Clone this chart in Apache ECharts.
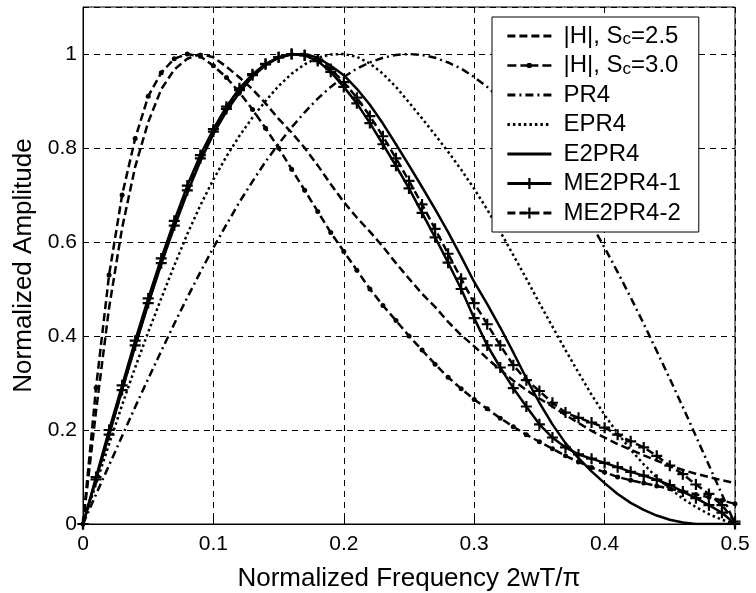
<!DOCTYPE html>
<html>
<head>
<meta charset="utf-8">
<script src="https://cdn.jsdelivr.net/npm/echarts@6/dist/echarts.min.js"></script>
<style>
  html, body { margin: 0; padding: 0; background: #fff; }
  #chart { width: 756px; height: 593px; }
</style>
</head>
<body>
<div id="chart"></div>
<script>
// normalized frequency grid, step 0.01
var freq = [];
for (var i = 0; i <= 50; i++) freq.push(+(i * 0.01).toFixed(2));

var xTicks = [0, 0.1, 0.2, 0.3, 0.4, 0.5];
var yTicks = [0, 0.2, 0.4, 0.6, 0.8, 1];

// values
var hSc25 = [0, 0.24, 0.46, 0.63, 0.76, 0.855, 0.925, 0.967, 0.99, 1.0,
  0.993, 0.973, 0.95, 0.925, 0.895, 0.862, 0.833, 0.8, 0.763, 0.723,
  0.685, 0.652, 0.622, 0.59, 0.555, 0.522, 0.49, 0.462, 0.43, 0.402,
  0.378, 0.352, 0.328, 0.305, 0.285, 0.267, 0.25, 0.232, 0.215, 0.198,
  0.184, 0.17, 0.158, 0.146, 0.135, 0.124, 0.115, 0.107, 0.1, 0.093, 0.087];

var hSc30 = [0, 0.29, 0.53, 0.7, 0.82, 0.91, 0.96, 0.99, 1.0, 0.995,
  0.975, 0.95, 0.918, 0.882, 0.842, 0.8, 0.755, 0.71, 0.665, 0.62,
  0.58, 0.54, 0.5, 0.465, 0.433, 0.4, 0.37, 0.34, 0.312, 0.288,
  0.265, 0.245, 0.225, 0.207, 0.19, 0.175, 0.16, 0.145, 0.132, 0.12,
  0.11, 0.1, 0.093, 0.087, 0.081, 0.075, 0.069, 0.063, 0.057, 0.05, 0.043];

var pr4 = [0, 0.063, 0.125, 0.187, 0.249, 0.309, 0.368, 0.426, 0.482, 0.536,
  0.588, 0.637, 0.685, 0.729, 0.771, 0.809, 0.844, 0.876, 0.905, 0.93,
  0.951, 0.969, 0.982, 0.992, 0.998, 1.0, 0.998, 0.992, 0.982, 0.969,
  0.951, 0.93, 0.905, 0.876, 0.844, 0.809, 0.771, 0.729, 0.685, 0.637,
  0.588, 0.536, 0.482, 0.426, 0.368, 0.309, 0.249, 0.187, 0.125, 0.063, 0];

var epr4 = [0, 0.085, 0.17, 0.253, 0.333, 0.408, 0.48, 0.55, 0.617, 0.678,
  0.733, 0.782, 0.826, 0.865, 0.9, 0.932, 0.958, 0.978, 0.992, 0.999,
  1.0, 0.994, 0.98, 0.958, 0.93, 0.897, 0.863, 0.828, 0.792, 0.754,
  0.713, 0.669, 0.622, 0.572, 0.522, 0.47, 0.42, 0.37, 0.322, 0.275,
  0.232, 0.193, 0.158, 0.127, 0.099, 0.075, 0.054, 0.036, 0.021, 0.009, 0];

var e2pr4 = [0, 0.095, 0.19, 0.285, 0.378, 0.468, 0.553, 0.632, 0.705, 0.772,
  0.83, 0.878, 0.918, 0.952, 0.976, 0.992, 0.999, 1.0, 0.992, 0.975,
  0.955, 0.926, 0.892, 0.852, 0.808, 0.763, 0.717, 0.67, 0.621, 0.569,
  0.515, 0.468, 0.418, 0.365, 0.31, 0.258, 0.212, 0.172, 0.14, 0.112,
  0.087, 0.064, 0.045, 0.03, 0.018, 0.009, 0.003, 0, 0, 0, 0];

var me2pr4a = [0, 0.1, 0.2, 0.295, 0.39, 0.48, 0.565, 0.645, 0.72, 0.785,
  0.84, 0.888, 0.927, 0.957, 0.979, 0.993, 1.0, 0.997, 0.985, 0.962,
  0.93, 0.895, 0.853, 0.808, 0.762, 0.714, 0.662, 0.61, 0.556, 0.5,
  0.438, 0.38, 0.333, 0.289, 0.25, 0.212, 0.184, 0.163, 0.148, 0.139,
  0.13, 0.121, 0.111, 0.103, 0.094, 0.083, 0.069, 0.055, 0.04, 0.024, 0];

var me2pr4b = [0, 0.095, 0.19, 0.285, 0.38, 0.47, 0.555, 0.635, 0.71, 0.778,
  0.835, 0.883, 0.923, 0.955, 0.978, 0.993, 1.0, 0.998, 0.988, 0.968,
  0.94, 0.907, 0.868, 0.825, 0.778, 0.73, 0.68, 0.628, 0.575, 0.522,
  0.47, 0.425, 0.38, 0.338, 0.306, 0.283, 0.258, 0.237, 0.226, 0.216,
  0.205, 0.19, 0.176, 0.163, 0.145, 0.124, 0.106, 0.084, 0.064, 0.04, 0.005];

function pairs(ys) {
  return freq.map(function (x, k) { return [x, ys[k]]; });
}

var plus = 'path://M-1.6,-8L1.6,-8L1.6,-1.6L8,-1.6L8,1.6L1.6,1.6L1.6,8L-1.6,8L-1.6,1.6L-8,1.6L-8,-1.6L-1.6,-1.6Z';
// legend sample for the dashed line with dots
var dashDotIcon = 'path://M0,1.3L9,1.3L9,3.7L0,3.7Z M13,1.3L31,1.3L31,3.7L13,3.7Z M35,1.3L44,1.3L44,3.7L35,3.7Z ' +
  'M20.5,0L23.5,0L25,1.5L25,3.5L23.5,5L20.5,5L19,3.5L19,1.5Z';
var dashed = [8, 4];
var dashDot = [8, 4, 2, 4];
var dotted = [2.5, 3];

function line(name, ys, type, extra) {
  var s = {
    name: name,
    type: 'line',
    data: pairs(ys),
    symbol: 'none',
    lineStyle: { color: '#000', width: 2.5, type: type },
    itemStyle: { color: '#000' },
    emphasis: { disabled: true },
    z: 3
  };
  for (var k in extra) s[k] = extra[k];
  return s;
}

var noMark = { opacity: 0 };

var chartDom = document.getElementById('chart');
var myChart = echarts.init(chartDom);
var font = 'Liberation Sans, Arial, Helvetica, sans-serif';

var option = {
  animation: false,
  backgroundColor: '#fff',
  grid: {
    left: 83, right: 21, top: 7, bottom: 69,
    outerBoundsMode: 'none',
    containLabel: false,
    show: true, borderColor: '#000', borderWidth: 1
  },
  legend: {
    orient: 'vertical',
    left: 492,
    top: 17,
    itemWidth: 44,
    itemHeight: 14,
    itemGap: 5.5,
    padding: [7, 18, 7, 14],
    backgroundColor: '#fff',
    borderColor: '#000',
    borderWidth: 1,
    borderRadius: 0,
    inactiveColor: '#000',
    selectedMode: false,
    lineStyle: { width: 2.8 },
    data: [
      { name: '|H|, Sc=2.5', itemStyle: noMark },
      { name: '|H|, Sc=3.0', icon: dashDotIcon },
      { name: 'PR4', itemStyle: noMark },
      { name: 'EPR4', itemStyle: noMark },
      { name: 'E2PR4', itemStyle: noMark },
      { name: 'ME2PR4-1' },
      { name: 'ME2PR4-2' }
    ],
    formatter: function (name) {
      return name.indexOf('Sc') >= 0 ? name.replace('Sc', 'S{sub|c}') : name;
    },
    textStyle: {
      fontFamily: font, fontSize: 24, color: '#000', lineHeight: 24,
      padding: [0, 0, 0, 7],
      rich: {
        sub: { fontFamily: font, fontSize: 17, color: '#000', lineHeight: 2, verticalAlign: 'bottom' }
      }
    }
  },
  xAxis: {
    type: 'value',
    min: 0, max: 0.5, interval: 0.1,
    name: 'Normalized Frequency 2wT/\u03c0',
    nameLocation: 'middle',
    nameGap: 42,
    nameTextStyle: { fontFamily: font, fontSize: 26, color: '#000' },
    axisLine: { show: true, lineStyle: { color: '#000', width: 1 } },
    axisTick: { show: true, inside: true, length: 6, lineStyle: { color: '#000' } },
    axisLabel: { fontFamily: font, fontSize: 21, color: '#000', margin: 10 },
    splitLine: { show: true, lineStyle: { color: '#000', width: 1, type: [6, 5] } }
  },
  yAxis: {
    type: 'value',
    min: 0, max: 1.1, interval: 0.2,
    name: 'Normalized Amplitude',
    nameLocation: 'middle',
    nameGap: 42,
    nameTextStyle: { fontFamily: font, fontSize: 26, color: '#000' },
    axisLine: { show: true, lineStyle: { color: '#000', width: 1 } },
    axisTick: { show: true, inside: true, length: 6, lineStyle: { color: '#000' } },
    axisLabel: {
      fontFamily: font, fontSize: 21, color: '#000', margin: 6, showMaxLabel: false,
      formatter: function (v) { return yTicks.indexOf(+v.toFixed(1)) >= 0 ? String(+v.toFixed(1)) : ''; }
    },
    splitLine: { show: true, lineStyle: { color: '#000', width: 1, type: [6, 5] } }
  },
  series: [
    line('|H|, Sc=2.5', hSc25, dashed),
    line('|H|, Sc=3.0', hSc30, dashed, { symbol: 'circle', symbolSize: 5, showSymbol: true }),
    line('PR4', pr4, dashDot),
    line('EPR4', epr4, dotted),
    line('E2PR4', e2pr4, 'solid'),
    line('ME2PR4-1', me2pr4a, 'solid', { symbol: plus, symbolSize: 11, showSymbol: true }),
    line('ME2PR4-2', me2pr4b, dashed, { symbol: plus, symbolSize: 11, showSymbol: true })
  ]
};

option && myChart.setOption(option);
</script>
</body>
</html>
